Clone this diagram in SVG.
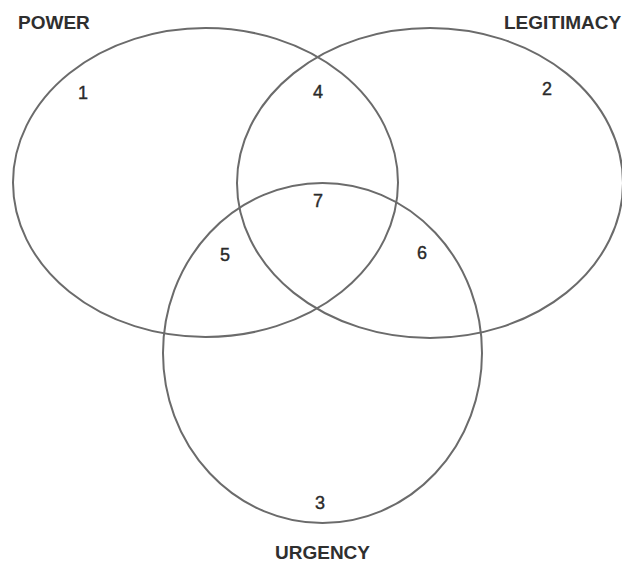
<svg xmlns="http://www.w3.org/2000/svg" width="622" height="563" viewBox="0 0 622 563">
<style>
.c{fill:none;stroke:#6b6b6b;stroke-width:2}
.lbl{font-family:"Liberation Sans",Arial,sans-serif;font-size:19px;font-weight:bold;fill:#2f2f2f}
.num{font-family:"Liberation Sans",Arial,sans-serif;font-size:18px;fill:#2a2a2a;stroke:#2a2a2a;stroke-width:0.4;text-anchor:middle}
</style>
<rect width="622" height="563" fill="#ffffff"/>
<g id="power">
<ellipse class="c" cx="205.5" cy="182.5" rx="192.5" ry="154.5"/>
<text class="lbl" x="18" y="29">POWER</text>
</g>
<g id="legitimacy">
<ellipse class="c" cx="430" cy="183" rx="193" ry="155"/>
<text class="lbl" x="504" y="29">LEGITIMACY</text>
</g>
<g id="urgency">
<ellipse class="c" cx="322.5" cy="353" rx="159.5" ry="170"/>
<text class="lbl" x="275" y="559">URGENCY</text>
</g>
<g id="regions">
<text class="num" x="83" y="99">1</text>
<text class="num" x="547" y="95">2</text>
<text class="num" x="320" y="509">3</text>
<text class="num" x="318" y="98">4</text>
<text class="num" x="225" y="261">5</text>
<text class="num" x="422" y="259">6</text>
<text class="num" x="318" y="207">7</text>
</g>
<g id="connectors"></g>
</svg>
